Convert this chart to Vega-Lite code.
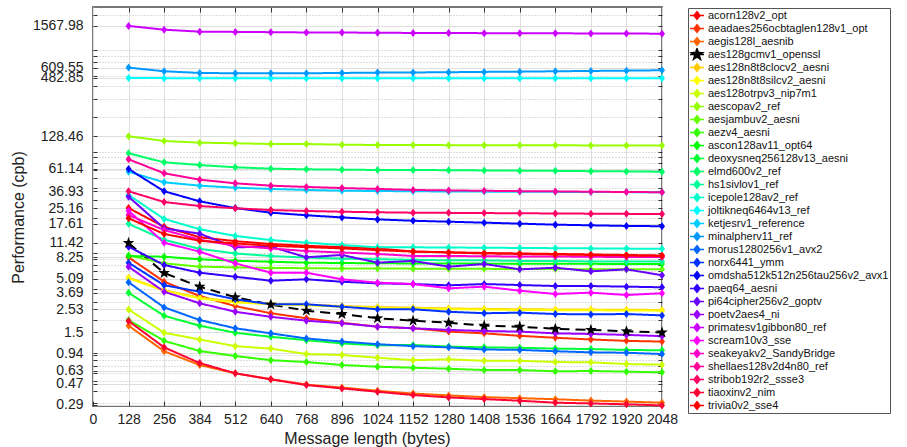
{
"$schema":"https://vega.github.io/schema/vega-lite/v6.json",
"width":569,"height":399,
"autosize":{"type":"none"},
"padding":{"left":93,"top":7,"right":245,"bottom":41},
"background":"white",
"config":{"view":{"stroke":"#777777","strokeWidth":2},"font":"Liberation Sans"},
"datasets":{"perf":[
{"series":"acorn128v2_opt","bytes":128,"cpb":25.2},{"series":"acorn128v2_opt","bytes":256,"cpb":16.5},{"series":"acorn128v2_opt","bytes":384,"cpb":13.0},{"series":"acorn128v2_opt","bytes":512,"cpb":11.9},{"series":"acorn128v2_opt","bytes":640,"cpb":11.15},{"series":"acorn128v2_opt","bytes":768,"cpb":10.7},{"series":"acorn128v2_opt","bytes":896,"cpb":10.4},{"series":"acorn128v2_opt","bytes":1024,"cpb":10.1},{"series":"acorn128v2_opt","bytes":1152,"cpb":9.4},{"series":"acorn128v2_opt","bytes":1280,"cpb":9.25},{"series":"acorn128v2_opt","bytes":1408,"cpb":9.1},{"series":"acorn128v2_opt","bytes":1536,"cpb":9.0},{"series":"acorn128v2_opt","bytes":1664,"cpb":8.9},{"series":"acorn128v2_opt","bytes":1792,"cpb":8.8},{"series":"acorn128v2_opt","bytes":1920,"cpb":8.7},{"series":"acorn128v2_opt","bytes":2048,"cpb":8.6},
{"series":"aeadaes256ocbtaglen128v1_opt","bytes":128,"cpb":8.25},{"series":"aeadaes256ocbtaglen128v1_opt","bytes":256,"cpb":4.75},{"series":"aeadaes256ocbtaglen128v1_opt","bytes":384,"cpb":3.43},{"series":"aeadaes256ocbtaglen128v1_opt","bytes":512,"cpb":2.73},{"series":"aeadaes256ocbtaglen128v1_opt","bytes":640,"cpb":2.32},{"series":"aeadaes256ocbtaglen128v1_opt","bytes":768,"cpb":2.07},{"series":"aeadaes256ocbtaglen128v1_opt","bytes":896,"cpb":1.87},{"series":"aeadaes256ocbtaglen128v1_opt","bytes":1024,"cpb":1.71},{"series":"aeadaes256ocbtaglen128v1_opt","bytes":1152,"cpb":1.65},{"series":"aeadaes256ocbtaglen128v1_opt","bytes":1280,"cpb":1.53},{"series":"aeadaes256ocbtaglen128v1_opt","bytes":1408,"cpb":1.47},{"series":"aeadaes256ocbtaglen128v1_opt","bytes":1536,"cpb":1.39},{"series":"aeadaes256ocbtaglen128v1_opt","bytes":1664,"cpb":1.33},{"series":"aeadaes256ocbtaglen128v1_opt","bytes":1792,"cpb":1.28},{"series":"aeadaes256ocbtaglen128v1_opt","bytes":1920,"cpb":1.24},{"series":"aeadaes256ocbtaglen128v1_opt","bytes":2048,"cpb":1.22},
{"series":"aegis128l_aesnib","bytes":128,"cpb":1.75},{"series":"aegis128l_aesnib","bytes":256,"cpb":0.98},{"series":"aegis128l_aesnib","bytes":384,"cpb":0.717},{"series":"aegis128l_aesnib","bytes":512,"cpb":0.594},{"series":"aegis128l_aesnib","bytes":640,"cpb":0.52},{"series":"aegis128l_aesnib","bytes":768,"cpb":0.46},{"series":"aegis128l_aesnib","bytes":896,"cpb":0.43},{"series":"aegis128l_aesnib","bytes":1024,"cpb":0.40},{"series":"aegis128l_aesnib","bytes":1152,"cpb":0.375},{"series":"aegis128l_aesnib","bytes":1280,"cpb":0.36},{"series":"aegis128l_aesnib","bytes":1408,"cpb":0.346},{"series":"aegis128l_aesnib","bytes":1536,"cpb":0.338},{"series":"aegis128l_aesnib","bytes":1664,"cpb":0.33},{"series":"aegis128l_aesnib","bytes":1792,"cpb":0.32},{"series":"aegis128l_aesnib","bytes":1920,"cpb":0.313},{"series":"aegis128l_aesnib","bytes":2048,"cpb":0.305},
{"series":"aes128gcmv1_openssl","bytes":128,"cpb":11.42},{"series":"aes128gcmv1_openssl","bytes":256,"cpb":5.78},{"series":"aes128gcmv1_openssl","bytes":384,"cpb":4.24},{"series":"aes128gcmv1_openssl","bytes":512,"cpb":3.33},{"series":"aes128gcmv1_openssl","bytes":640,"cpb":2.82},{"series":"aes128gcmv1_openssl","bytes":768,"cpb":2.46},{"series":"aes128gcmv1_openssl","bytes":896,"cpb":2.28},{"series":"aes128gcmv1_openssl","bytes":1024,"cpb":2.07},{"series":"aes128gcmv1_openssl","bytes":1152,"cpb":1.96},{"series":"aes128gcmv1_openssl","bytes":1280,"cpb":1.87},{"series":"aes128gcmv1_openssl","bytes":1408,"cpb":1.75},{"series":"aes128gcmv1_openssl","bytes":1536,"cpb":1.71},{"series":"aes128gcmv1_openssl","bytes":1664,"cpb":1.63},{"series":"aes128gcmv1_openssl","bytes":1792,"cpb":1.59},{"series":"aes128gcmv1_openssl","bytes":1920,"cpb":1.54},{"series":"aes128gcmv1_openssl","bytes":2048,"cpb":1.5},
{"series":"aes128n8t8clocv2_aesni","bytes":128,"cpb":5.2},{"series":"aes128n8t8clocv2_aesni","bytes":256,"cpb":3.92},{"series":"aes128n8t8clocv2_aesni","bytes":384,"cpb":3.3},{"series":"aes128n8t8clocv2_aesni","bytes":512,"cpb":3.02},{"series":"aes128n8t8clocv2_aesni","bytes":640,"cpb":2.88},{"series":"aes128n8t8clocv2_aesni","bytes":768,"cpb":2.82},{"series":"aes128n8t8clocv2_aesni","bytes":896,"cpb":2.73},{"series":"aes128n8t8clocv2_aesni","bytes":1024,"cpb":2.67},{"series":"aes128n8t8clocv2_aesni","bytes":1152,"cpb":2.63},{"series":"aes128n8t8clocv2_aesni","bytes":1280,"cpb":2.59},{"series":"aes128n8t8clocv2_aesni","bytes":1408,"cpb":2.56},{"series":"aes128n8t8clocv2_aesni","bytes":1536,"cpb":2.54},{"series":"aes128n8t8clocv2_aesni","bytes":1664,"cpb":2.53},{"series":"aes128n8t8clocv2_aesni","bytes":1792,"cpb":2.52},{"series":"aes128n8t8clocv2_aesni","bytes":1920,"cpb":2.51},{"series":"aes128n8t8clocv2_aesni","bytes":2048,"cpb":2.5},
{"series":"aes128n8t8silcv2_aesni","bytes":128,"cpb":5.12},{"series":"aes128n8t8silcv2_aesni","bytes":256,"cpb":3.87},{"series":"aes128n8t8silcv2_aesni","bytes":384,"cpb":3.25},{"series":"aes128n8t8silcv2_aesni","bytes":512,"cpb":2.97},{"series":"aes128n8t8silcv2_aesni","bytes":640,"cpb":2.84},{"series":"aes128n8t8silcv2_aesni","bytes":768,"cpb":2.78},{"series":"aes128n8t8silcv2_aesni","bytes":896,"cpb":2.69},{"series":"aes128n8t8silcv2_aesni","bytes":1024,"cpb":2.63},{"series":"aes128n8t8silcv2_aesni","bytes":1152,"cpb":2.59},{"series":"aes128n8t8silcv2_aesni","bytes":1280,"cpb":2.55},{"series":"aes128n8t8silcv2_aesni","bytes":1408,"cpb":2.52},{"series":"aes128n8t8silcv2_aesni","bytes":1536,"cpb":2.5},{"series":"aes128n8t8silcv2_aesni","bytes":1664,"cpb":2.49},{"series":"aes128n8t8silcv2_aesni","bytes":1792,"cpb":2.48},{"series":"aes128n8t8silcv2_aesni","bytes":1920,"cpb":2.47},{"series":"aes128n8t8silcv2_aesni","bytes":2048,"cpb":2.46},
{"series":"aes128otrpv3_nip7m1","bytes":128,"cpb":2.53},{"series":"aes128otrpv3_nip7m1","bytes":256,"cpb":1.49},{"series":"aes128otrpv3_nip7m1","bytes":384,"cpb":1.28},{"series":"aes128otrpv3_nip7m1","bytes":512,"cpb":1.10},{"series":"aes128otrpv3_nip7m1","bytes":640,"cpb":1.04},{"series":"aes128otrpv3_nip7m1","bytes":768,"cpb":0.92},{"series":"aes128otrpv3_nip7m1","bytes":896,"cpb":0.90},{"series":"aes128otrpv3_nip7m1","bytes":1024,"cpb":0.846},{"series":"aes128otrpv3_nip7m1","bytes":1152,"cpb":0.80},{"series":"aes128otrpv3_nip7m1","bytes":1280,"cpb":0.815},{"series":"aes128otrpv3_nip7m1","bytes":1408,"cpb":0.79},{"series":"aes128otrpv3_nip7m1","bytes":1536,"cpb":0.79},{"series":"aes128otrpv3_nip7m1","bytes":1664,"cpb":0.767},{"series":"aes128otrpv3_nip7m1","bytes":1792,"cpb":0.762},{"series":"aes128otrpv3_nip7m1","bytes":1920,"cpb":0.733},{"series":"aes128otrpv3_nip7m1","bytes":2048,"cpb":0.722},
{"series":"aescopav2_ref","bytes":128,"cpb":128.46},{"series":"aescopav2_ref","bytes":256,"cpb":115.5},{"series":"aescopav2_ref","bytes":384,"cpb":111.1},{"series":"aescopav2_ref","bytes":512,"cpb":109.6},{"series":"aescopav2_ref","bytes":640,"cpb":107.8},{"series":"aescopav2_ref","bytes":768,"cpb":107.8},{"series":"aescopav2_ref","bytes":896,"cpb":106.1},{"series":"aescopav2_ref","bytes":1024,"cpb":105.4},{"series":"aescopav2_ref","bytes":1152,"cpb":105.4},{"series":"aescopav2_ref","bytes":1280,"cpb":105.0},{"series":"aescopav2_ref","bytes":1408,"cpb":105.0},{"series":"aescopav2_ref","bytes":1536,"cpb":104.8},{"series":"aescopav2_ref","bytes":1664,"cpb":104.6},{"series":"aescopav2_ref","bytes":1792,"cpb":104.4},{"series":"aescopav2_ref","bytes":1920,"cpb":104.3},{"series":"aescopav2_ref","bytes":2048,"cpb":104.2},
{"series":"aesjambuv2_aesni","bytes":128,"cpb":8.6},{"series":"aesjambuv2_aesni","bytes":256,"cpb":7.2},{"series":"aesjambuv2_aesni","bytes":384,"cpb":6.67},{"series":"aesjambuv2_aesni","bytes":512,"cpb":6.57},{"series":"aesjambuv2_aesni","bytes":640,"cpb":6.47},{"series":"aesjambuv2_aesni","bytes":768,"cpb":6.45},{"series":"aesjambuv2_aesni","bytes":896,"cpb":6.4},{"series":"aesjambuv2_aesni","bytes":1024,"cpb":6.4},{"series":"aesjambuv2_aesni","bytes":1152,"cpb":6.38},{"series":"aesjambuv2_aesni","bytes":1280,"cpb":6.36},{"series":"aesjambuv2_aesni","bytes":1408,"cpb":6.35},{"series":"aesjambuv2_aesni","bytes":1536,"cpb":6.33},{"series":"aesjambuv2_aesni","bytes":1664,"cpb":6.32},{"series":"aesjambuv2_aesni","bytes":1792,"cpb":6.3},{"series":"aesjambuv2_aesni","bytes":1920,"cpb":6.3},{"series":"aesjambuv2_aesni","bytes":2048,"cpb":6.28},
{"series":"aezv4_aesni","bytes":128,"cpb":1.99},{"series":"aezv4_aesni","bytes":256,"cpb":1.24},{"series":"aezv4_aesni","bytes":384,"cpb":0.985},{"series":"aezv4_aesni","bytes":512,"cpb":0.88},{"series":"aezv4_aesni","bytes":640,"cpb":0.80},{"series":"aezv4_aesni","bytes":768,"cpb":0.767},{"series":"aezv4_aesni","bytes":896,"cpb":0.717},{"series":"aezv4_aesni","bytes":1024,"cpb":0.69},{"series":"aezv4_aesni","bytes":1152,"cpb":0.674},{"series":"aezv4_aesni","bytes":1280,"cpb":0.659},{"series":"aezv4_aesni","bytes":1408,"cpb":0.64},{"series":"aezv4_aesni","bytes":1536,"cpb":0.64},{"series":"aezv4_aesni","bytes":1664,"cpb":0.621},{"series":"aezv4_aesni","bytes":1792,"cpb":0.626},{"series":"aezv4_aesni","bytes":1920,"cpb":0.617},{"series":"aezv4_aesni","bytes":2048,"cpb":0.607},
{"series":"ascon128av11_opt64","bytes":128,"cpb":8.5},{"series":"ascon128av11_opt64","bytes":256,"cpb":8.36},{"series":"ascon128av11_opt64","bytes":384,"cpb":7.88},{"series":"ascon128av11_opt64","bytes":512,"cpb":7.64},{"series":"ascon128av11_opt64","bytes":640,"cpb":7.46},{"series":"ascon128av11_opt64","bytes":768,"cpb":7.3},{"series":"ascon128av11_opt64","bytes":896,"cpb":7.25},{"series":"ascon128av11_opt64","bytes":1024,"cpb":7.2},{"series":"ascon128av11_opt64","bytes":1152,"cpb":7.18},{"series":"ascon128av11_opt64","bytes":1280,"cpb":7.16},{"series":"ascon128av11_opt64","bytes":1408,"cpb":7.15},{"series":"ascon128av11_opt64","bytes":1536,"cpb":7.13},{"series":"ascon128av11_opt64","bytes":1664,"cpb":7.12},{"series":"ascon128av11_opt64","bytes":1792,"cpb":7.11},{"series":"ascon128av11_opt64","bytes":1920,"cpb":7.1},{"series":"ascon128av11_opt64","bytes":2048,"cpb":7.09},
{"series":"deoxysneq256128v13_aesni","bytes":128,"cpb":3.69},{"series":"deoxysneq256128v13_aesni","bytes":256,"cpb":2.19},{"series":"deoxysneq256128v13_aesni","bytes":384,"cpb":1.75},{"series":"deoxysneq256128v13_aesni","bytes":512,"cpb":1.49},{"series":"deoxysneq256128v13_aesni","bytes":640,"cpb":1.36},{"series":"deoxysneq256128v13_aesni","bytes":768,"cpb":1.26},{"series":"deoxysneq256128v13_aesni","bytes":896,"cpb":1.17},{"series":"deoxysneq256128v13_aesni","bytes":1024,"cpb":1.12},{"series":"deoxysneq256128v13_aesni","bytes":1152,"cpb":1.13},{"series":"deoxysneq256128v13_aesni","bytes":1280,"cpb":1.09},{"series":"deoxysneq256128v13_aesni","bytes":1408,"cpb":1.07},{"series":"deoxysneq256128v13_aesni","bytes":1536,"cpb":1.06},{"series":"deoxysneq256128v13_aesni","bytes":1664,"cpb":1.04},{"series":"deoxysneq256128v13_aesni","bytes":1792,"cpb":1.03},{"series":"deoxysneq256128v13_aesni","bytes":1920,"cpb":1.01},{"series":"deoxysneq256128v13_aesni","bytes":2048,"cpb":1.0},
{"series":"elmd600v2_ref","bytes":128,"cpb":87.3},{"series":"elmd600v2_ref","bytes":256,"cpb":71.2},{"series":"elmd600v2_ref","bytes":384,"cpb":66.9},{"series":"elmd600v2_ref","bytes":512,"cpb":63.6},{"series":"elmd600v2_ref","bytes":640,"cpb":61.6},{"series":"elmd600v2_ref","bytes":768,"cpb":60.7},{"series":"elmd600v2_ref","bytes":896,"cpb":60.2},{"series":"elmd600v2_ref","bytes":1024,"cpb":59.8},{"series":"elmd600v2_ref","bytes":1152,"cpb":59.8},{"series":"elmd600v2_ref","bytes":1280,"cpb":59.5},{"series":"elmd600v2_ref","bytes":1408,"cpb":59.2},{"series":"elmd600v2_ref","bytes":1536,"cpb":58.9},{"series":"elmd600v2_ref","bytes":1664,"cpb":58.6},{"series":"elmd600v2_ref","bytes":1792,"cpb":58.2},{"series":"elmd600v2_ref","bytes":1920,"cpb":57.9},{"series":"elmd600v2_ref","bytes":2048,"cpb":57.5},
{"series":"hs1sivlov1_ref","bytes":128,"cpb":17.61},{"series":"hs1sivlov1_ref","bytes":256,"cpb":12.3},{"series":"hs1sivlov1_ref","bytes":384,"cpb":10.0},{"series":"hs1sivlov1_ref","bytes":512,"cpb":9.0},{"series":"hs1sivlov1_ref","bytes":640,"cpb":8.5},{"series":"hs1sivlov1_ref","bytes":768,"cpb":8.2},{"series":"hs1sivlov1_ref","bytes":896,"cpb":8.0},{"series":"hs1sivlov1_ref","bytes":1024,"cpb":7.9},{"series":"hs1sivlov1_ref","bytes":1152,"cpb":7.8},{"series":"hs1sivlov1_ref","bytes":1280,"cpb":7.7},{"series":"hs1sivlov1_ref","bytes":1408,"cpb":7.7},{"series":"hs1sivlov1_ref","bytes":1536,"cpb":7.6},{"series":"hs1sivlov1_ref","bytes":1664,"cpb":7.6},{"series":"hs1sivlov1_ref","bytes":1792,"cpb":7.5},{"series":"hs1sivlov1_ref","bytes":1920,"cpb":7.5},{"series":"hs1sivlov1_ref","bytes":2048,"cpb":7.5},
{"series":"icepole128av2_ref","bytes":128,"cpb":33.9},{"series":"icepole128av2_ref","bytes":256,"cpb":19.7},{"series":"icepole128av2_ref","bytes":384,"cpb":15.6},{"series":"icepole128av2_ref","bytes":512,"cpb":13.4},{"series":"icepole128av2_ref","bytes":640,"cpb":12.2},{"series":"icepole128av2_ref","bytes":768,"cpb":11.5},{"series":"icepole128av2_ref","bytes":896,"cpb":10.9},{"series":"icepole128av2_ref","bytes":1024,"cpb":10.35},{"series":"icepole128av2_ref","bytes":1152,"cpb":10.35},{"series":"icepole128av2_ref","bytes":1280,"cpb":10.3},{"series":"icepole128av2_ref","bytes":1408,"cpb":10.25},{"series":"icepole128av2_ref","bytes":1536,"cpb":10.2},{"series":"icepole128av2_ref","bytes":1664,"cpb":10.15},{"series":"icepole128av2_ref","bytes":1792,"cpb":10.1},{"series":"icepole128av2_ref","bytes":1920,"cpb":10.05},{"series":"icepole128av2_ref","bytes":2048,"cpb":10.0},
{"series":"joltikneq6464v13_ref","bytes":128,"cpb":482.85},{"series":"joltikneq6464v13_ref","bytes":256,"cpb":480},{"series":"joltikneq6464v13_ref","bytes":384,"cpb":479},{"series":"joltikneq6464v13_ref","bytes":512,"cpb":479},{"series":"joltikneq6464v13_ref","bytes":640,"cpb":478},{"series":"joltikneq6464v13_ref","bytes":768,"cpb":478},{"series":"joltikneq6464v13_ref","bytes":896,"cpb":478},{"series":"joltikneq6464v13_ref","bytes":1024,"cpb":478},{"series":"joltikneq6464v13_ref","bytes":1152,"cpb":478},{"series":"joltikneq6464v13_ref","bytes":1280,"cpb":478},{"series":"joltikneq6464v13_ref","bytes":1408,"cpb":478},{"series":"joltikneq6464v13_ref","bytes":1536,"cpb":478},{"series":"joltikneq6464v13_ref","bytes":1664,"cpb":478},{"series":"joltikneq6464v13_ref","bytes":1792,"cpb":478},{"series":"joltikneq6464v13_ref","bytes":1920,"cpb":478},{"series":"joltikneq6464v13_ref","bytes":2048,"cpb":478},
{"series":"ketjesrv1_reference","bytes":128,"cpb":57.5},{"series":"ketjesrv1_reference","bytes":256,"cpb":45.2},{"series":"ketjesrv1_reference","bytes":384,"cpb":41.9},{"series":"ketjesrv1_reference","bytes":512,"cpb":40.0},{"series":"ketjesrv1_reference","bytes":640,"cpb":38.9},{"series":"ketjesrv1_reference","bytes":768,"cpb":38.0},{"series":"ketjesrv1_reference","bytes":896,"cpb":37.4},{"series":"ketjesrv1_reference","bytes":1024,"cpb":37.1},{"series":"ketjesrv1_reference","bytes":1152,"cpb":36.9},{"series":"ketjesrv1_reference","bytes":1280,"cpb":36.7},{"series":"ketjesrv1_reference","bytes":1408,"cpb":36.6},{"series":"ketjesrv1_reference","bytes":1536,"cpb":36.5},{"series":"ketjesrv1_reference","bytes":1664,"cpb":36.4},{"series":"ketjesrv1_reference","bytes":1792,"cpb":36.3},{"series":"ketjesrv1_reference","bytes":1920,"cpb":36.2},{"series":"ketjesrv1_reference","bytes":2048,"cpb":36.1},
{"series":"minalpherv11_ref","bytes":128,"cpb":609.55},{"series":"minalpherv11_ref","bytes":256,"cpb":561},{"series":"minalpherv11_ref","bytes":384,"cpb":540},{"series":"minalpherv11_ref","bytes":512,"cpb":536},{"series":"minalpherv11_ref","bytes":640,"cpb":536},{"series":"minalpherv11_ref","bytes":768,"cpb":536},{"series":"minalpherv11_ref","bytes":896,"cpb":540},{"series":"minalpherv11_ref","bytes":1024,"cpb":544},{"series":"minalpherv11_ref","bytes":1152,"cpb":546},{"series":"minalpherv11_ref","bytes":1280,"cpb":549},{"series":"minalpherv11_ref","bytes":1408,"cpb":553},{"series":"minalpherv11_ref","bytes":1536,"cpb":556},{"series":"minalpherv11_ref","bytes":1664,"cpb":561},{"series":"minalpherv11_ref","bytes":1792,"cpb":565},{"series":"minalpherv11_ref","bytes":1920,"cpb":569},{"series":"minalpherv11_ref","bytes":2048,"cpb":574},
{"series":"morus1280256v1_avx2","bytes":128,"cpb":4.68},{"series":"morus1280256v1_avx2","bytes":256,"cpb":2.65},{"series":"morus1280256v1_avx2","bytes":384,"cpb":1.99},{"series":"morus1280256v1_avx2","bytes":512,"cpb":1.65},{"series":"morus1280256v1_avx2","bytes":640,"cpb":1.47},{"series":"morus1280256v1_avx2","bytes":768,"cpb":1.31},{"series":"morus1280256v1_avx2","bytes":896,"cpb":1.22},{"series":"morus1280256v1_avx2","bytes":1024,"cpb":1.15},{"series":"morus1280256v1_avx2","bytes":1152,"cpb":1.10},{"series":"morus1280256v1_avx2","bytes":1280,"cpb":1.07},{"series":"morus1280256v1_avx2","bytes":1408,"cpb":1.02},{"series":"morus1280256v1_avx2","bytes":1536,"cpb":1.01},{"series":"morus1280256v1_avx2","bytes":1664,"cpb":0.98},{"series":"morus1280256v1_avx2","bytes":1792,"cpb":0.956},{"series":"morus1280256v1_avx2","bytes":1920,"cpb":0.947},{"series":"morus1280256v1_avx2","bytes":2048,"cpb":0.92},
{"series":"norx6441_ymm","bytes":128,"cpb":7.3},{"series":"norx6441_ymm","bytes":256,"cpb":4.38},{"series":"norx6441_ymm","bytes":384,"cpb":3.78},{"series":"norx6441_ymm","bytes":512,"cpb":3.18},{"series":"norx6441_ymm","bytes":640,"cpb":2.84},{"series":"norx6441_ymm","bytes":768,"cpb":2.84},{"series":"norx6441_ymm","bytes":896,"cpb":2.69},{"series":"norx6441_ymm","bytes":1024,"cpb":2.54},{"series":"norx6441_ymm","bytes":1152,"cpb":2.54},{"series":"norx6441_ymm","bytes":1280,"cpb":2.40},{"series":"norx6441_ymm","bytes":1408,"cpb":2.32},{"series":"norx6441_ymm","bytes":1536,"cpb":2.35},{"series":"norx6441_ymm","bytes":1664,"cpb":2.28},{"series":"norx6441_ymm","bytes":1792,"cpb":2.26},{"series":"norx6441_ymm","bytes":1920,"cpb":2.28},{"series":"norx6441_ymm","bytes":2048,"cpb":2.21},
{"series":"omdsha512k512n256tau256v2_avx1","bytes":128,"cpb":61.14},{"series":"omdsha512k512n256tau256v2_avx1","bytes":256,"cpb":36.9},{"series":"omdsha512k512n256tau256v2_avx1","bytes":384,"cpb":29.4},{"series":"omdsha512k512n256tau256v2_avx1","bytes":512,"cpb":25.2},{"series":"omdsha512k512n256tau256v2_avx1","bytes":640,"cpb":22.7},{"series":"omdsha512k512n256tau256v2_avx1","bytes":768,"cpb":21.4},{"series":"omdsha512k512n256tau256v2_avx1","bytes":896,"cpb":20.4},{"series":"omdsha512k512n256tau256v2_avx1","bytes":1024,"cpb":19.5},{"series":"omdsha512k512n256tau256v2_avx1","bytes":1152,"cpb":18.9},{"series":"omdsha512k512n256tau256v2_avx1","bytes":1280,"cpb":18.5},{"series":"omdsha512k512n256tau256v2_avx1","bytes":1408,"cpb":18.1},{"series":"omdsha512k512n256tau256v2_avx1","bytes":1536,"cpb":17.7},{"series":"omdsha512k512n256tau256v2_avx1","bytes":1664,"cpb":17.3},{"series":"omdsha512k512n256tau256v2_avx1","bytes":1792,"cpb":17.05},{"series":"omdsha512k512n256tau256v2_avx1","bytes":1920,"cpb":16.8},{"series":"omdsha512k512n256tau256v2_avx1","bytes":2048,"cpb":16.7},
{"series":"paeq64_aesni","bytes":128,"cpb":10.5},{"series":"paeq64_aesni","bytes":256,"cpb":6.93},{"series":"paeq64_aesni","bytes":384,"cpb":5.82},{"series":"paeq64_aesni","bytes":512,"cpb":5.31},{"series":"paeq64_aesni","bytes":640,"cpb":4.85},{"series":"paeq64_aesni","bytes":768,"cpb":5.01},{"series":"paeq64_aesni","bytes":896,"cpb":4.74},{"series":"paeq64_aesni","bytes":1024,"cpb":4.57},{"series":"paeq64_aesni","bytes":1152,"cpb":4.5},{"series":"paeq64_aesni","bytes":1280,"cpb":4.37},{"series":"paeq64_aesni","bytes":1408,"cpb":4.5},{"series":"paeq64_aesni","bytes":1536,"cpb":4.4},{"series":"paeq64_aesni","bytes":1664,"cpb":4.3},{"series":"paeq64_aesni","bytes":1792,"cpb":4.3},{"series":"paeq64_aesni","bytes":1920,"cpb":4.24},{"series":"paeq64_aesni","bytes":2048,"cpb":4.18},
{"series":"pi64cipher256v2_goptv","bytes":128,"cpb":32.6},{"series":"pi64cipher256v2_goptv","bytes":256,"cpb":15.9},{"series":"pi64cipher256v2_goptv","bytes":384,"cpb":14.1},{"series":"pi64cipher256v2_goptv","bytes":512,"cpb":10.35},{"series":"pi64cipher256v2_goptv","bytes":640,"cpb":10.5},{"series":"pi64cipher256v2_goptv","bytes":768,"cpb":8.25},{"series":"pi64cipher256v2_goptv","bytes":896,"cpb":8.7},{"series":"pi64cipher256v2_goptv","bytes":1024,"cpb":7.3},{"series":"pi64cipher256v2_goptv","bytes":1152,"cpb":7.6},{"series":"pi64cipher256v2_goptv","bytes":1280,"cpb":6.67},{"series":"pi64cipher256v2_goptv","bytes":1408,"cpb":7.09},{"series":"pi64cipher256v2_goptv","bytes":1536,"cpb":6.28},{"series":"pi64cipher256v2_goptv","bytes":1664,"cpb":6.52},{"series":"pi64cipher256v2_goptv","bytes":1792,"cpb":6.0},{"series":"pi64cipher256v2_goptv","bytes":1920,"cpb":6.28},{"series":"pi64cipher256v2_goptv","bytes":2048,"cpb":5.49},
{"series":"poetv2aes4_ni","bytes":128,"cpb":6.67},{"series":"poetv2aes4_ni","bytes":256,"cpb":3.78},{"series":"poetv2aes4_ni","bytes":384,"cpb":2.91},{"series":"poetv2aes4_ni","bytes":512,"cpb":2.40},{"series":"poetv2aes4_ni","bytes":640,"cpb":2.14},{"series":"poetv2aes4_ni","bytes":768,"cpb":1.96},{"series":"poetv2aes4_ni","bytes":896,"cpb":1.85},{"series":"poetv2aes4_ni","bytes":1024,"cpb":1.71},{"series":"poetv2aes4_ni","bytes":1152,"cpb":1.65},{"series":"poetv2aes4_ni","bytes":1280,"cpb":1.59},{"series":"poetv2aes4_ni","bytes":1408,"cpb":1.55},{"series":"poetv2aes4_ni","bytes":1536,"cpb":1.53},{"series":"poetv2aes4_ni","bytes":1664,"cpb":1.47},{"series":"poetv2aes4_ni","bytes":1792,"cpb":1.45},{"series":"poetv2aes4_ni","bytes":1920,"cpb":1.42},{"series":"poetv2aes4_ni","bytes":2048,"cpb":1.38},
{"series":"primatesv1gibbon80_ref","bytes":128,"cpb":1567.98},{"series":"primatesv1gibbon80_ref","bytes":256,"cpb":1441},{"series":"primatesv1gibbon80_ref","bytes":384,"cpb":1378},{"series":"primatesv1gibbon80_ref","bytes":512,"cpb":1370},{"series":"primatesv1gibbon80_ref","bytes":640,"cpb":1362},{"series":"primatesv1gibbon80_ref","bytes":768,"cpb":1353},{"series":"primatesv1gibbon80_ref","bytes":896,"cpb":1350},{"series":"primatesv1gibbon80_ref","bytes":1024,"cpb":1345},{"series":"primatesv1gibbon80_ref","bytes":1152,"cpb":1338},{"series":"primatesv1gibbon80_ref","bytes":1280,"cpb":1335},{"series":"primatesv1gibbon80_ref","bytes":1408,"cpb":1332},{"series":"primatesv1gibbon80_ref","bytes":1536,"cpb":1330},{"series":"primatesv1gibbon80_ref","bytes":1664,"cpb":1327},{"series":"primatesv1gibbon80_ref","bytes":1792,"cpb":1323},{"series":"primatesv1gibbon80_ref","bytes":1920,"cpb":1320},{"series":"primatesv1gibbon80_ref","bytes":2048,"cpb":1316},
{"series":"scream10v3_sse","bytes":128,"cpb":23.7},{"series":"scream10v3_sse","bytes":256,"cpb":11.5},{"series":"scream10v3_sse","bytes":384,"cpb":9.37},{"series":"scream10v3_sse","bytes":512,"cpb":7.2},{"series":"scream10v3_sse","bytes":640,"cpb":5.82},{"series":"scream10v3_sse","bytes":768,"cpb":5.82},{"series":"scream10v3_sse","bytes":896,"cpb":5.01},{"series":"scream10v3_sse","bytes":1024,"cpb":4.64},{"series":"scream10v3_sse","bytes":1152,"cpb":4.5},{"series":"scream10v3_sse","bytes":1280,"cpb":4.08},{"series":"scream10v3_sse","bytes":1408,"cpb":4.24},{"series":"scream10v3_sse","bytes":1536,"cpb":3.87},{"series":"scream10v3_sse","bytes":1664,"cpb":3.59},{"series":"scream10v3_sse","bytes":1792,"cpb":3.70},{"series":"scream10v3_sse","bytes":1920,"cpb":3.51},{"series":"scream10v3_sse","bytes":2048,"cpb":3.65},
{"series":"seakeyakv2_SandyBridge","bytes":128,"cpb":21.5},{"series":"seakeyakv2_SandyBridge","bytes":256,"cpb":15.3},{"series":"seakeyakv2_SandyBridge","bytes":384,"cpb":12.3},{"series":"seakeyakv2_SandyBridge","bytes":512,"cpb":10.7},{"series":"seakeyakv2_SandyBridge","bytes":640,"cpb":10.1},{"series":"seakeyakv2_SandyBridge","bytes":768,"cpb":9.5},{"series":"seakeyakv2_SandyBridge","bytes":896,"cpb":9.2},{"series":"seakeyakv2_SandyBridge","bytes":1024,"cpb":8.9},{"series":"seakeyakv2_SandyBridge","bytes":1152,"cpb":8.5},{"series":"seakeyakv2_SandyBridge","bytes":1280,"cpb":8.5},{"series":"seakeyakv2_SandyBridge","bytes":1408,"cpb":8.45},{"series":"seakeyakv2_SandyBridge","bytes":1536,"cpb":8.4},{"series":"seakeyakv2_SandyBridge","bytes":1664,"cpb":8.4},{"series":"seakeyakv2_SandyBridge","bytes":1792,"cpb":8.35},{"series":"seakeyakv2_SandyBridge","bytes":1920,"cpb":8.3},{"series":"seakeyakv2_SandyBridge","bytes":2048,"cpb":8.3},
{"series":"shellaes128v2d4n80_ref","bytes":128,"cpb":76.2},{"series":"shellaes128v2d4n80_ref","bytes":256,"cpb":55.5},{"series":"shellaes128v2d4n80_ref","bytes":384,"cpb":48.0},{"series":"shellaes128v2d4n80_ref","bytes":512,"cpb":44.2},{"series":"shellaes128v2d4n80_ref","bytes":640,"cpb":41.9},{"series":"shellaes128v2d4n80_ref","bytes":768,"cpb":40.7},{"series":"shellaes128v2d4n80_ref","bytes":896,"cpb":39.7},{"series":"shellaes128v2d4n80_ref","bytes":1024,"cpb":38.9},{"series":"shellaes128v2d4n80_ref","bytes":1152,"cpb":38.0},{"series":"shellaes128v2d4n80_ref","bytes":1280,"cpb":37.6},{"series":"shellaes128v2d4n80_ref","bytes":1408,"cpb":37.3},{"series":"shellaes128v2d4n80_ref","bytes":1536,"cpb":37.0},{"series":"shellaes128v2d4n80_ref","bytes":1664,"cpb":36.8},{"series":"shellaes128v2d4n80_ref","bytes":1792,"cpb":36.5},{"series":"shellaes128v2d4n80_ref","bytes":1920,"cpb":36.3},{"series":"shellaes128v2d4n80_ref","bytes":2048,"cpb":36.1},
{"series":"stribob192r2_ssse3","bytes":128,"cpb":36.93},{"series":"stribob192r2_ssse3","bytes":256,"cpb":28.9},{"series":"stribob192r2_ssse3","bytes":384,"cpb":26.4},{"series":"stribob192r2_ssse3","bytes":512,"cpb":25.1},{"series":"stribob192r2_ssse3","bytes":640,"cpb":24.1},{"series":"stribob192r2_ssse3","bytes":768,"cpb":23.6},{"series":"stribob192r2_ssse3","bytes":896,"cpb":23.2},{"series":"stribob192r2_ssse3","bytes":1024,"cpb":22.9},{"series":"stribob192r2_ssse3","bytes":1152,"cpb":22.7},{"series":"stribob192r2_ssse3","bytes":1280,"cpb":22.6},{"series":"stribob192r2_ssse3","bytes":1408,"cpb":22.5},{"series":"stribob192r2_ssse3","bytes":1536,"cpb":22.4},{"series":"stribob192r2_ssse3","bytes":1664,"cpb":22.3},{"series":"stribob192r2_ssse3","bytes":1792,"cpb":22.2},{"series":"stribob192r2_ssse3","bytes":1920,"cpb":22.1},{"series":"stribob192r2_ssse3","bytes":2048,"cpb":22.0},
{"series":"tiaoxinv2_nim","bytes":128,"cpb":1.945},{"series":"tiaoxinv2_nim","bytes":256,"cpb":1.07},{"series":"tiaoxinv2_nim","bytes":384,"cpb":0.75},{"series":"tiaoxinv2_nim","bytes":512,"cpb":0.594},{"series":"tiaoxinv2_nim","bytes":640,"cpb":0.518},{"series":"tiaoxinv2_nim","bytes":768,"cpb":0.455},{"series":"tiaoxinv2_nim","bytes":896,"cpb":0.422},{"series":"tiaoxinv2_nim","bytes":1024,"cpb":0.391},{"series":"tiaoxinv2_nim","bytes":1152,"cpb":0.363},{"series":"tiaoxinv2_nim","bytes":1280,"cpb":0.344},{"series":"tiaoxinv2_nim","bytes":1408,"cpb":0.331},{"series":"tiaoxinv2_nim","bytes":1536,"cpb":0.319},{"series":"tiaoxinv2_nim","bytes":1664,"cpb":0.305},{"series":"tiaoxinv2_nim","bytes":1792,"cpb":0.30},{"series":"tiaoxinv2_nim","bytes":1920,"cpb":0.294},{"series":"tiaoxinv2_nim","bytes":2048,"cpb":0.287},
{"series":"trivia0v2_sse4","bytes":128,"cpb":20.0},{"series":"trivia0v2_sse4","bytes":256,"cpb":14.0},{"series":"trivia0v2_sse4","bytes":384,"cpb":12.0},{"series":"trivia0v2_sse4","bytes":512,"cpb":11.3},{"series":"trivia0v2_sse4","bytes":640,"cpb":10.7},{"series":"trivia0v2_sse4","bytes":768,"cpb":10.4},{"series":"trivia0v2_sse4","bytes":896,"cpb":10.1},{"series":"trivia0v2_sse4","bytes":1024,"cpb":9.7},{"series":"trivia0v2_sse4","bytes":1152,"cpb":9.4},{"series":"trivia0v2_sse4","bytes":1280,"cpb":9.2},{"series":"trivia0v2_sse4","bytes":1408,"cpb":9.0},{"series":"trivia0v2_sse4","bytes":1536,"cpb":8.9},{"series":"trivia0v2_sse4","bytes":1664,"cpb":8.8},{"series":"trivia0v2_sse4","bytes":1792,"cpb":8.7},{"series":"trivia0v2_sse4","bytes":1920,"cpb":8.6},{"series":"trivia0v2_sse4","bytes":2048,"cpb":8.5}
]},
"data":{"name":"perf"},
"encoding":{
"x":{"field":"bytes","type":"quantitative","scale":{"domain":[0,2048],"nice":false,"zero":false}},
"y":{"field":"cpb","type":"quantitative","scale":{"type":"log","domain":[0.283,2410],"nice":false}},
"color":{"field":"series","type":"nominal","sort":null,
"scale":{"domain":["acorn128v2_opt","aeadaes256ocbtaglen128v1_opt","aegis128l_aesnib","aes128gcmv1_openssl","aes128n8t8clocv2_aesni","aes128n8t8silcv2_aesni","aes128otrpv3_nip7m1","aescopav2_ref","aesjambuv2_aesni","aezv4_aesni","ascon128av11_opt64","deoxysneq256128v13_aesni","elmd600v2_ref","hs1sivlov1_ref","icepole128av2_ref","joltikneq6464v13_ref","ketjesrv1_reference","minalpherv11_ref","morus1280256v1_avx2","norx6441_ymm","omdsha512k512n256tau256v2_avx1","paeq64_aesni","pi64cipher256v2_goptv","poetv2aes4_ni","primatesv1gibbon80_ref","scream10v3_sse","seakeyakv2_SandyBridge","shellaes128v2d4n80_ref","stribob192r2_ssse3","tiaoxinv2_nim","trivia0v2_sse4"],
"range":["#ff0000","#ff3300","#ff6600","#000000","#ffcc00","#ffff00","#ccff00","#99ff00","#66ff00","#33ff00","#00ff00","#00ff33","#00ff66","#00ff99","#00ffcc","#00ffff","#00ccff","#0099ff","#0066ff","#0033ff","#0000ff","#3300ff","#6600ff","#9900ff","#cc00ff","#ff00ff","#ff00cc","#ff0099","#ff0066","#ff0033","#ff0000"]},
"legend":{"orient":"none","legendX":595,"legendY":1,"title":null,"direction":"vertical","columns":1,"padding":1,
"strokeColor":"#555555","fillColor":"#ffffff","labelFont":"Liberation Sans","labelFontSize":11,"labelColor":"#111111","labelOffset":3,"labelLimit":600,
"symbolSize":196,"symbolStrokeWidth":1.5,"clipHeight":13,"rowPadding":0,"symbolLimit":50,
"labelExpr":"datum.label + '                                                  '",
"encode":{"symbols":{"update":{
"shape":[{"test":"datum.value === 'aes128gcmv1_openssl'","value":"M-1,0H1M0,-0.85L0.2,-0.275L0.808,-0.263L0.323,0.105L0.5,0.688L0,0.34L-0.5,0.688L-0.323,0.105L-0.808,-0.263L-0.2,-0.275Z"},{"value":"M-1,0H1M-0.43,0L0,-0.55L0.43,0L0,0.55Z"}],
"fill":{"scale":"color","field":"value"},"stroke":{"scale":"color","field":"value"},"strokeWidth":{"value":1.5},"strokeDash":{"value":[1,0]},"opacity":{"value":1}}}}}}
},
"layer":[
{"mark":{"type":"line","strokeWidth":2},
"encoding":{
"x":{"field":"bytes","type":"quantitative","axis":{"orient":"bottom","values":[0,128,256,384,512,640,768,896,1024,1152,1280,1408,1536,1664,1792,1920,2048],"format":"d","grid":true,"gridColor":"#dedede","gridWidth":1,"domain":false,"ticks":true,"tickSize":-5,"tickColor":"#333333","labelFontSize":14,"labelColor":"#222222","labelPadding":11,"labelFlush":false,"labelOverlap":false,"labelFont":"Liberation Sans","title":"Message length (bytes)","titleFont":"Liberation Sans","titleFontSize":16,"titleFontWeight":"normal","titleColor":"#222222","titleX":274,"titleY":37,"titleBaseline":"alphabetic"}},
"y":{"field":"cpb","type":"quantitative","axis":{"orient":"left","values":[0.29,0.3,0.4,0.47,0.5,0.6,0.63,0.7,0.8,0.9,0.94,1.5,2,2.53,3,3.69,4,5,5.09,6,7,8,8.25,9,11.42,17.61,20,25.16,30,36.93,40,50,60,61.14,70,80,90,128.46,200,300,400,482.85,500,600,609.55,700,800,900,1567.98,2000],
"grid":true,
"gridColor":{"condition":{"test":"indexof([1567.98,609.55,482.85,128.46,61.14,36.93,25.16,17.61,11.42,8.25,5.09,3.69,2.53,1.5,0.94,0.63,0.47,0.29], datum.value) < 0","value":"#bdbdbd"},"value":"#dedede"},
"gridDash":{"condition":{"test":"indexof([1567.98,609.55,482.85,128.46,61.14,36.93,25.16,17.61,11.42,8.25,5.09,3.69,2.53,1.5,0.94,0.63,0.47,0.29], datum.value) < 0","value":[1,2]},"value":[]},
"domain":false,"ticks":true,"tickSize":-4,"tickColor":"#333333",
"labelExpr":"indexof([1567.98,609.55,482.85,128.46,61.14,36.93,25.16,17.61,11.42,8.25,5.09,3.69,2.53,1.5,0.94,0.63,0.47,0.29], datum.value) >= 0 ? '' + datum.value : ''",
"labelFontSize":14,"labelColor":"#222222","labelPadding":14,"labelOverlap":false,"labelFlush":false,"labelBound":false,"labelFont":"Liberation Sans",
"title":"Performance (cpb)","titleFont":"Liberation Sans","titleFontSize":16,"titleFontWeight":"normal","titleColor":"#222222","titleX":-75,"titleY":210,"titleBaseline":"middle","titleAngle":-90}},
"strokeDash":{"condition":{"test":"datum.series === 'aes128gcmv1_openssl'","value":[10,6]},"value":[1,0]},
"strokeWidth":{"condition":{"test":"datum.series === 'aes128gcmv1_openssl'","value":2.5},"value":2}
}},
{"transform":[{"filter":"datum.series !== 'aes128gcmv1_openssl'"}],
"mark":{"type":"point","filled":true,"opacity":1,"size":64,"shape":"M-0.75,0L0,-1L0.75,0L0,1Z"},
"encoding":{
"x":{"field":"bytes","type":"quantitative","axis":{"orient":"top","values":[128,256,384,512,640,768,896,1024,1152,1280,1408,1536,1664,1792,1920],"grid":false,"domain":false,"labels":false,"ticks":true,"tickSize":-5,"tickColor":"#333333","title":null}},
"y":{"field":"cpb","type":"quantitative","axis":{"orient":"right","values":[0.29,0.3,0.4,0.47,0.5,0.6,0.63,0.7,0.8,0.9,0.94,1.5,2,2.53,3,3.69,4,5,5.09,6,7,8,8.25,9,11.42,17.61,20,25.16,30,36.93,40,50,60,61.14,70,80,90,128.46,200,300,400,482.85,500,600,609.55,700,800,900,1567.98,2000],"grid":false,"domain":false,"labels":false,"ticks":true,"tickSize":-4,"tickColor":"#333333","title":null}}
}},
{"transform":[{"filter":"datum.series === 'aes128gcmv1_openssl'"}],
"mark":{"type":"point","filled":true,"opacity":1,"size":150,"shape":"M0,-1L0.235,-0.324L0.951,-0.309L0.38,0.124L0.588,0.809L0,0.4L-0.588,0.809L-0.38,0.124L-0.951,-0.309L-0.235,-0.324Z"},
"encoding":{
"x":{"field":"bytes","type":"quantitative","axis":null},
"y":{"field":"cpb","type":"quantitative","axis":null}
}}
],
"resolve":{"axis":{"x":"independent","y":"independent"}}
}
